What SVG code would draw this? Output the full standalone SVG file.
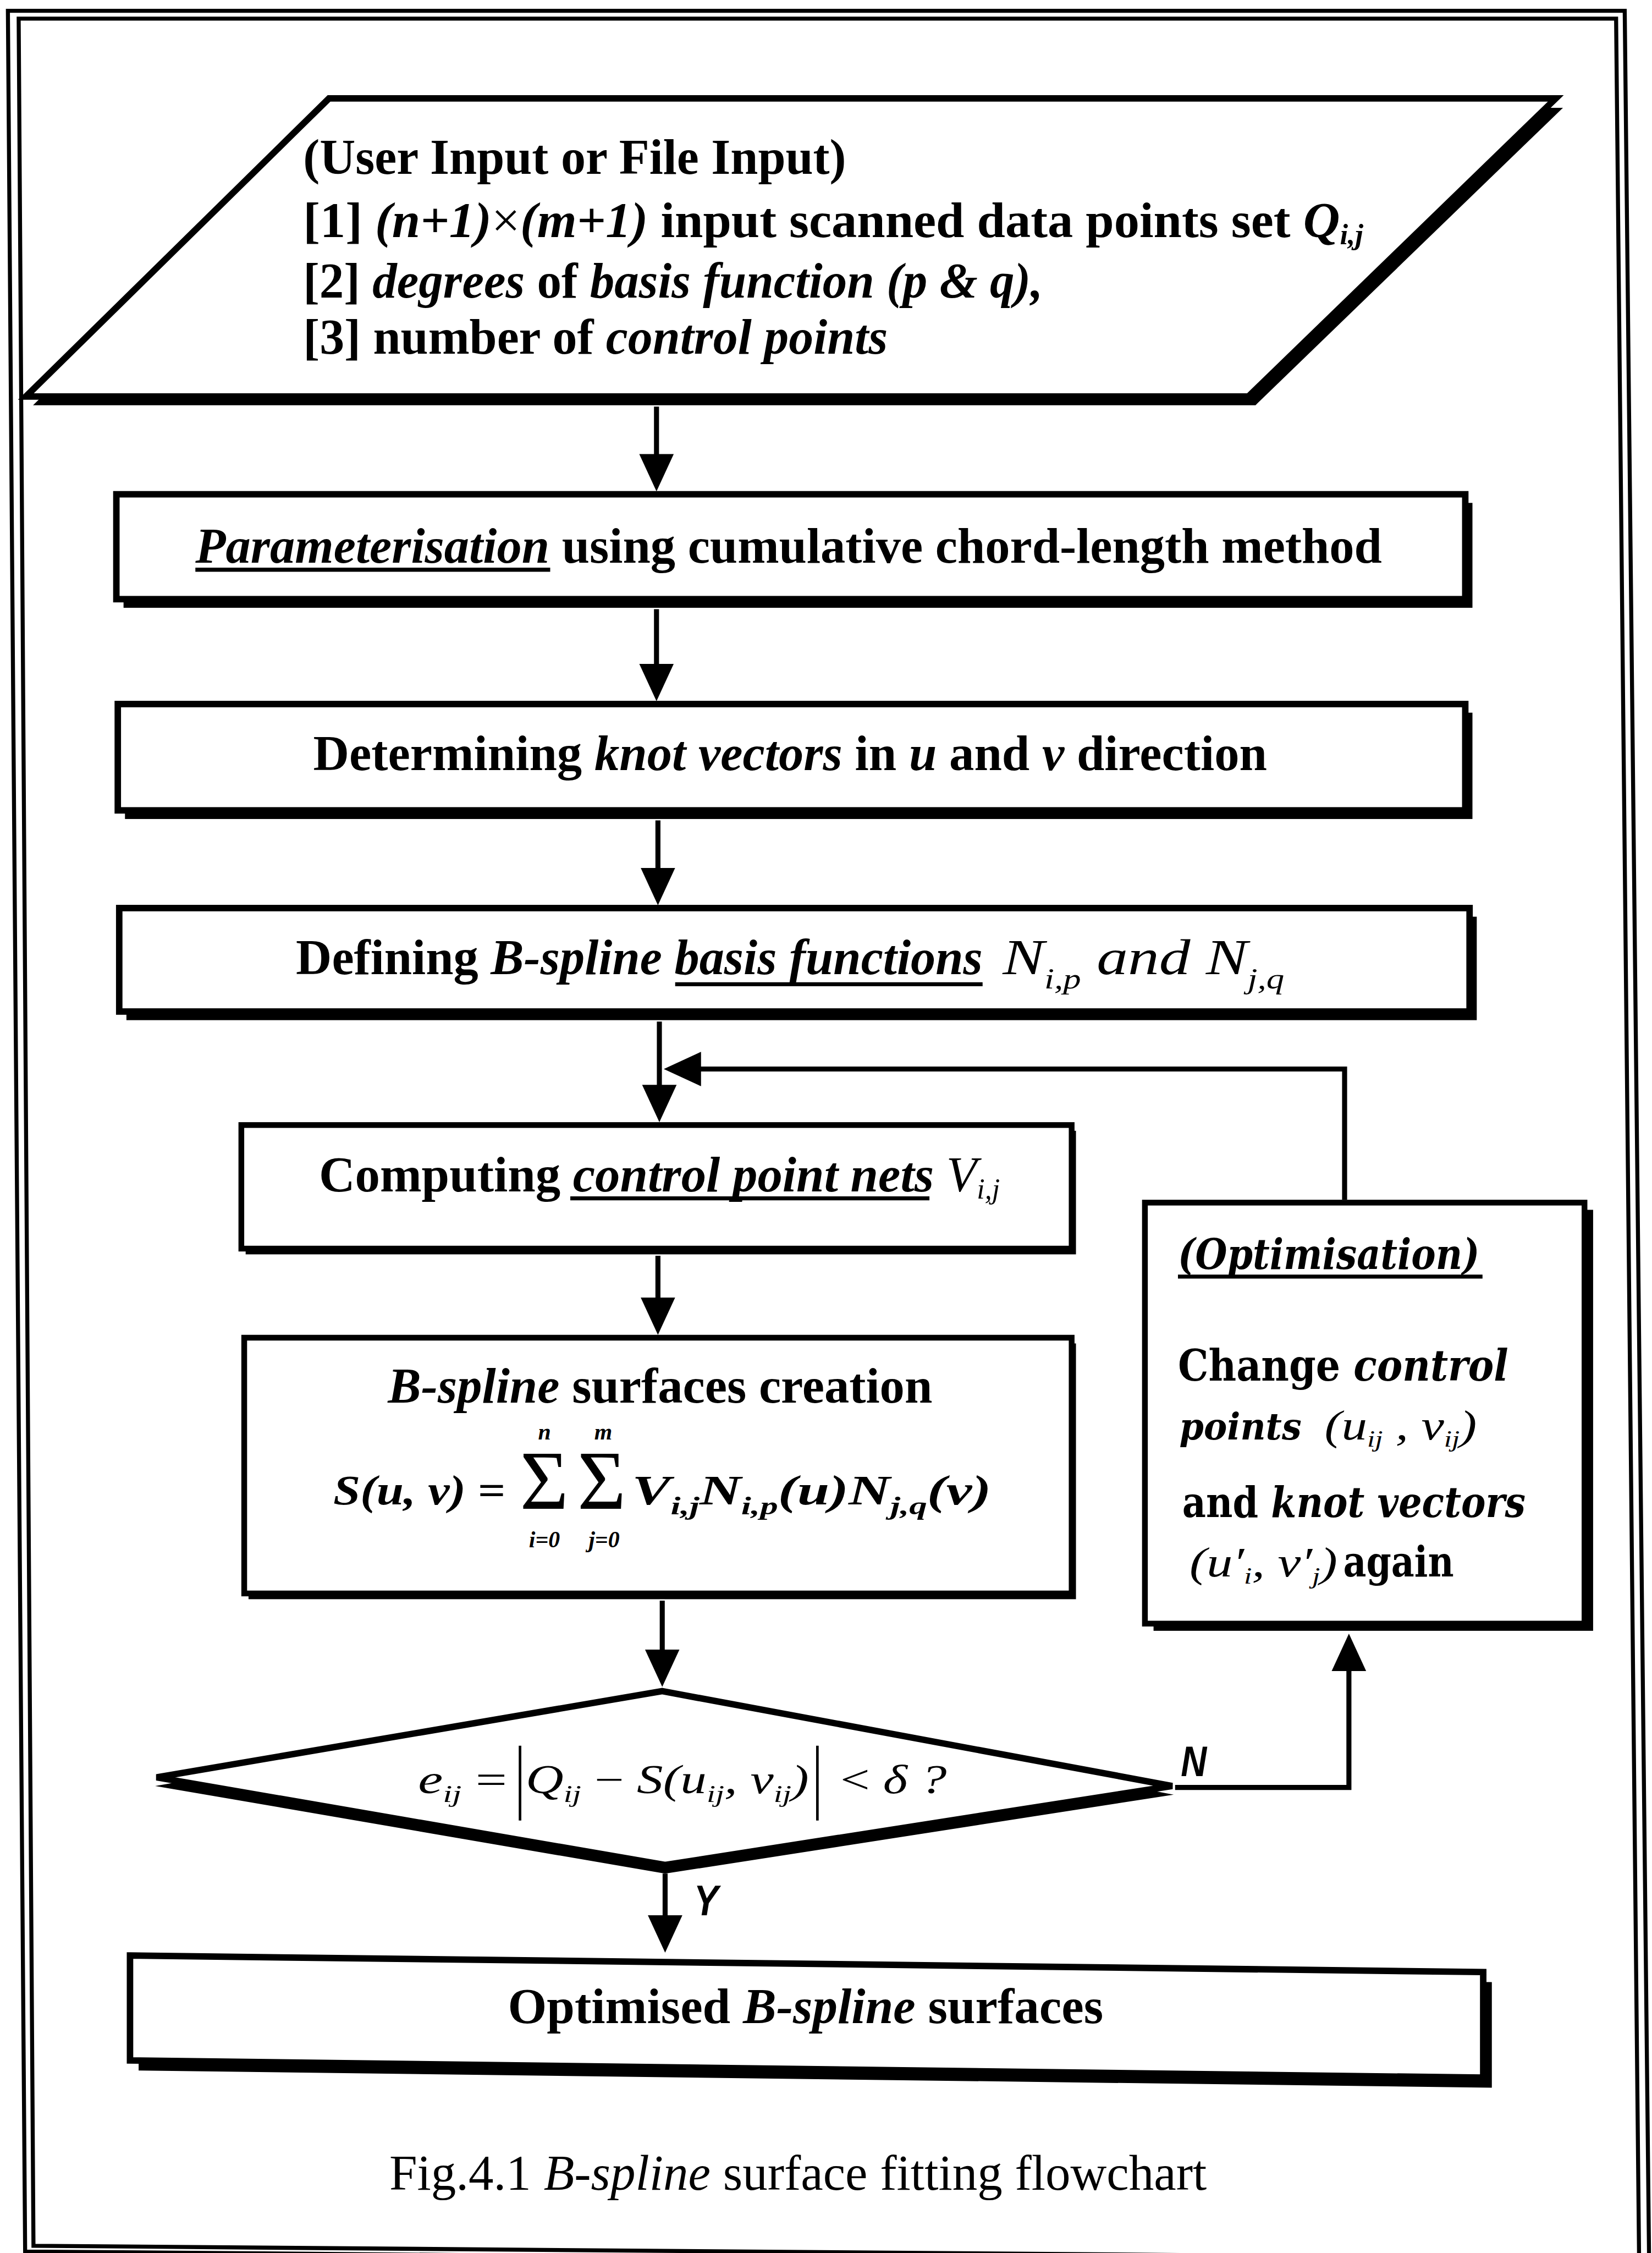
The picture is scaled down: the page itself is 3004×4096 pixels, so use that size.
<svg xmlns="http://www.w3.org/2000/svg" width="3004" height="4096" viewBox="0 0 3004 4096">
<style>
.bx{fill:#fff;stroke:#000;stroke-width:4.5}
.bx2{fill:#fff;stroke:#000;stroke-width:4}
.sh{fill:#000;stroke:none}
.fr{fill:none;stroke:#000;stroke-width:2.8}
.cn{fill:none;stroke:#000;stroke-width:3.5}
.ul{stroke:#000;stroke-width:2.8}
.bar{stroke:#000;stroke-width:1.8}
.t{font-family:"Liberation Serif","Times New Roman",serif;font-size:35px;font-weight:bold;fill:#000}
.i{font-style:italic}
.n{font-weight:normal}
.m{font-family:"Liberation Serif","Times New Roman",serif;font-style:italic;font-weight:normal;font-size:29px;fill:#000}
.mb{font-weight:bold}
.sg{font-family:"Liberation Serif","Times New Roman",serif;font-size:58px;fill:#000}
.lim{font-family:"Liberation Serif","Times New Roman",serif;font-style:italic;font-weight:bold;font-size:16px}
.bk{font-family:"DejaVu Serif",serif;font-weight:bold;font-size:29px;fill:#000}
.lb{font-family:"Liberation Sans",Arial,sans-serif;font-weight:bold;font-style:italic;font-size:30px;fill:#000}
</style>
<defs>
<marker id="ah" viewBox="0 0 26 26" refX="21" refY="13" markerWidth="26" markerHeight="26" markerUnits="userSpaceOnUse" orient="auto"><path d="M0,1 L26,13 L0,25 Z" fill="#000"/></marker>
</defs>
<rect x="0" y="0" width="3004" height="4096" fill="#fff"/>
<g transform="scale(2.6122)">
<g id="frame">
<polygon class="fr" points="5.5,7.5 1131,7.5 1148,1576 17.5,1567"/>
<polygon class="fr" points="13,13 1125,13 1141,1572 23.3,1563"/>
</g>

<g id="input">
<polygon class="sh" points="234,75 1088,75 874,282 23,282"/>
<polygon class="bx" points="229,68.5 1083,68.5 869,276 18,276"/>
<text class="t" x="211" y="121" textLength="378" lengthAdjust="spacingAndGlyphs">(User Input or File Input)</text>
<text class="t" x="211" y="165" textLength="738" lengthAdjust="spacingAndGlyphs">[1] <tspan class="i">(n+1)</tspan><tspan class="n">×</tspan><tspan class="i">(m+1)</tspan> input scanned data points set <tspan class="i">Q</tspan><tspan class="i" font-size="20" dy="5">i,j</tspan></text>
<text class="t" x="211" y="207" textLength="515" lengthAdjust="spacingAndGlyphs">[2] <tspan class="i">degrees</tspan> of <tspan class="i">basis function (p &amp; q),</tspan></text>
<text class="t" x="211" y="246" textLength="407" lengthAdjust="spacingAndGlyphs">[3] number of <tspan class="i">control points</tspan></text>
</g>

<g id="param">
<rect class="sh" x="86" y="350" width="939" height="73"/>
<rect class="bx" x="81" y="344" width="939" height="73"/>
<text class="t" x="136" y="391.5" textLength="826" lengthAdjust="spacingAndGlyphs"><tspan class="i">Parameterisation</tspan> using cumulative chord-length method</text>
<line class="ul" x1="136" y1="396.5" x2="383" y2="396.5"/>
</g>

<g id="knots">
<rect class="sh" x="87" y="496" width="938" height="74"/>
<rect class="bx" x="82" y="490" width="938" height="74"/>
<text class="t" x="218" y="536" textLength="664" lengthAdjust="spacingAndGlyphs">Determining <tspan class="i">knot vectors</tspan> in <tspan class="i">u</tspan> and <tspan class="i">v</tspan> direction</text>
</g>

<g id="basis">
<rect class="sh" x="88" y="638" width="940" height="72"/>
<rect class="bx" x="83" y="632" width="940" height="72"/>
<text class="t" x="206" y="678" textLength="478" lengthAdjust="spacingAndGlyphs">Defining <tspan class="i">B-spline</tspan> <tspan class="i">basis functions</tspan></text>
<line class="ul" x1="470" y1="685" x2="684" y2="685"/>
<text class="t i n" x="698" y="678" textLength="196" lengthAdjust="spacingAndGlyphs">N<tspan font-size="20" dy="10">i,p</tspan><tspan dy="-10"> and N</tspan><tspan font-size="20" dy="10">j,q</tspan></text>
</g>

<g id="control">
<rect class="sh" x="171" y="787" width="578" height="86"/>
<rect class="bx2" x="168" y="783" width="578" height="86"/>
<text class="t" x="222" y="829" textLength="474" lengthAdjust="spacingAndGlyphs">Computing <tspan class="i">control point nets</tspan> <tspan class="i n">V</tspan><tspan class="i n" font-size="20" dy="5">i,j</tspan></text>
<line class="ul" x1="397" y1="834" x2="647" y2="834"/>
</g>

<g id="surface">
<rect class="sh" x="173" y="935" width="576" height="178"/>
<rect class="bx2" x="170" y="931" width="576" height="178"/>
<text class="t" x="270" y="976" textLength="379" lengthAdjust="spacingAndGlyphs"><tspan class="i">B-spline</tspan> surfaces creation</text>
<text class="m mb" x="232" y="1047" textLength="120" lengthAdjust="spacingAndGlyphs">S(u, v) <tspan font-style="normal">=</tspan></text>
<text class="sg" x="362" y="1050">Σ<tspan class="lim" x="379" y="1002" text-anchor="middle">n</tspan><tspan class="lim" x="379" y="1077" text-anchor="middle">i=0</tspan></text>
<text class="sg" x="402" y="1050">Σ<tspan class="lim" x="420" y="1002" text-anchor="middle">m</tspan><tspan class="lim" x="420.5" y="1077" text-anchor="middle">j=0</tspan></text>
<text class="m mb" x="440" y="1047" textLength="250" lengthAdjust="spacingAndGlyphs">V<tspan font-size="18" dy="7">i,j</tspan><tspan dy="-7">N</tspan><tspan font-size="18" dy="7">i,p</tspan><tspan dy="-7">(u)N</tspan><tspan font-size="18" dy="7">j,q</tspan><tspan dy="-7">(v)</tspan></text>
</g>

<g id="decision">
<polygon class="sh" points="461,1182 817,1249 463,1304 108,1243"/>
<polygon class="bx" points="461,1177 816,1243 463,1298 109,1237"/>
<text class="m" x="291" y="1248" textLength="62" lengthAdjust="spacingAndGlyphs" style="font-size:28px">e<tspan font-size="17" dy="6">ij</tspan><tspan dy="-6" font-style="normal"> =</tspan></text>
<line class="bar" x1="362" y1="1215" x2="362" y2="1267"/>
<text class="m" x="366" y="1248" textLength="197" lengthAdjust="spacingAndGlyphs" style="font-size:28px">Q<tspan font-size="17" dy="6">ij</tspan><tspan dy="-6" font-style="normal"> − </tspan>S(u<tspan font-size="17" dy="6">ij</tspan><tspan dy="-6">, v</tspan><tspan font-size="17" dy="6">ij</tspan><tspan dy="-6">)</tspan></text>
<line class="bar" x1="569" y1="1215" x2="569" y2="1267"/>
<text class="m" x="585" y="1248" textLength="74" lengthAdjust="spacingAndGlyphs" style="font-size:28px"><tspan font-style="normal">&lt;</tspan> δ ?</text>
</g>

<g id="optimisation">
<rect class="sh" x="803" y="842" width="306" height="293"/>
<rect class="bx2" x="797" y="837" width="306" height="293"/>
<text class="bk i" x="820" y="883" textLength="210" lengthAdjust="spacingAndGlyphs">(Optimisation)</text>
<line class="ul" x1="820" y1="888.5" x2="1032" y2="888.5"/>
<text class="bk" x="820" y="961" textLength="230" lengthAdjust="spacingAndGlyphs" style="font-size:30px">Change <tspan class="i">control</tspan></text>
<text class="bk i" x="821" y="1002" textLength="85" lengthAdjust="spacingAndGlyphs" style="font-size:26px">points</text>
<text class="m" x="922" y="1002" textLength="106" lengthAdjust="spacingAndGlyphs">(u<tspan font-size="16" dy="5">ij</tspan><tspan dy="-5"> , v</tspan><tspan font-size="16" dy="5">ij</tspan><tspan dy="-5">)</tspan></text>
<text class="bk" x="823" y="1056" textLength="239" lengthAdjust="spacingAndGlyphs">and <tspan class="i">knot vectors</tspan></text>
<text class="m" x="828" y="1097" textLength="103" lengthAdjust="spacingAndGlyphs">(u′<tspan font-size="16" dy="5">i</tspan><tspan dy="-5">, v′</tspan><tspan font-size="16" dy="5">j</tspan><tspan dy="-5">)</tspan></text>
<text class="bk" x="935" y="1097" textLength="77" lengthAdjust="spacingAndGlyphs">again</text>
</g>

<g id="result">
<polygon class="sh" points="96.5,1368 1038.5,1379.5 1038.5,1453 96.5,1441"/>
<polygon class="bx" points="90.5,1361 1032.5,1372.5 1032.5,1446 90.5,1434"/>
<text class="t" x="353.5" y="1408" textLength="414.5" lengthAdjust="spacingAndGlyphs">Optimised <tspan class="i">B-spline</tspan> surfaces</text>
</g>

<g id="connectors">
<path class="cn" d="M457,283 V337" marker-end="url(#ah)"/>
<path class="cn" d="M457,424 V483" marker-end="url(#ah)"/>
<path class="cn" d="M458,571 V625" marker-end="url(#ah)"/>
<path class="cn" d="M459,711 V776" marker-end="url(#ah)"/>
<path class="cn" d="M936,835 V744 H467" marker-end="url(#ah)"/>
<path class="cn" d="M458,874 V924" marker-end="url(#ah)"/>
<path class="cn" d="M461,1114 V1169" marker-end="url(#ah)"/>
<path class="cn" d="M818,1244 H939 V1142" marker-end="url(#ah)"/>
<path class="cn" d="M463,1304 V1354" marker-end="url(#ah)"/>
<text class="lb" x="822" y="1236" textLength="18" lengthAdjust="spacingAndGlyphs">N</text>
<text class="lb" x="483" y="1333" textLength="17" lengthAdjust="spacingAndGlyphs">Y</text>
</g>

<text class="t n" x="271" y="1524" textLength="569" lengthAdjust="spacingAndGlyphs">Fig.4.1 <tspan class="i">B-spline</tspan> surface fitting flowchart</text>
</g>
</svg>
